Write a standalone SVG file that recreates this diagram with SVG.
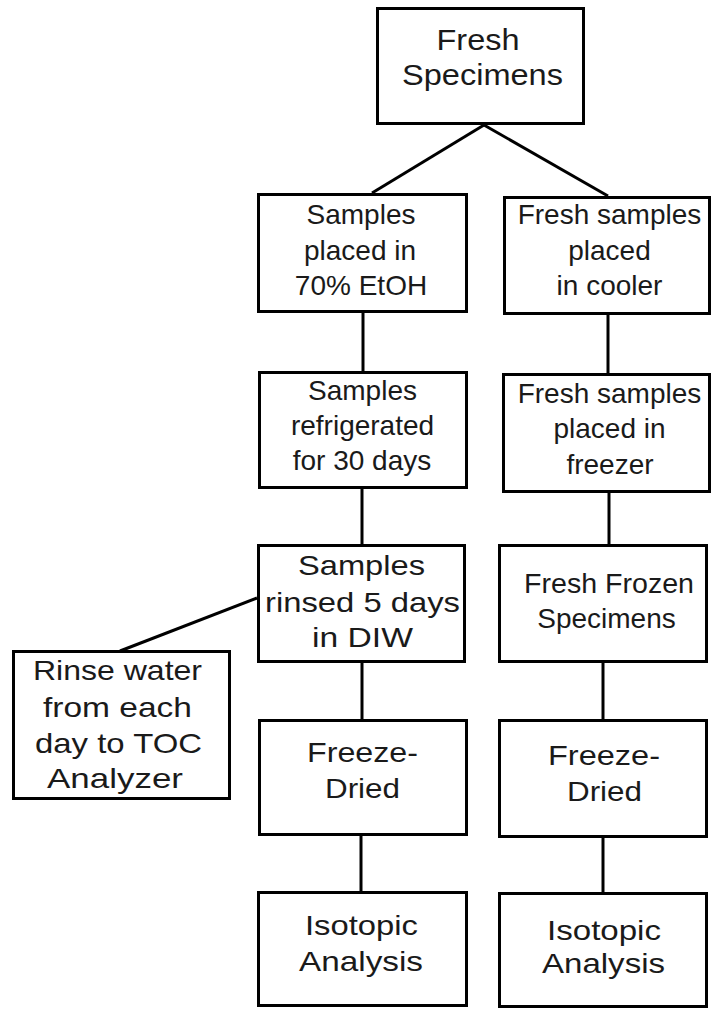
<svg xmlns="http://www.w3.org/2000/svg" width="713" height="1009" viewBox="0 0 713 1009">
<style>
.box{fill:#fff;stroke:#000;stroke-width:3}
.t{font-family:"Liberation Sans",Arial,sans-serif;font-size:28px;fill:#1a1a1a;text-anchor:middle}
.big{font-size:29px}
.c{stroke:#000;stroke-width:3;fill:none}
</style>
<rect width="713" height="1009" fill="#fff"/>
<g id="connectors">
<line class="c" x1="484" y1="125" x2="372" y2="193"/>
<line class="c" x1="484" y1="125" x2="608" y2="196"/>
<line class="c" x1="363" y1="313" x2="363" y2="371"/>
<line class="c" x1="362" y1="489" x2="362" y2="544"/>
<line class="c" x1="362" y1="663" x2="362" y2="719"/>
<line class="c" x1="361" y1="836" x2="361" y2="891"/>
<line class="c" x1="608" y1="315" x2="608" y2="373"/>
<line class="c" x1="609" y1="493" x2="609" y2="544"/>
<line class="c" x1="603" y1="663" x2="603" y2="719"/>
<line class="c" x1="603" y1="838" x2="603" y2="892"/>
<line class="c" x1="257" y1="598" x2="120" y2="651"/>
</g>
<g id="n1">
<rect class="box" x="377.5" y="8.5" width="206" height="115"/>
<text class="t big" x="478" y="50" textLength="83" lengthAdjust="spacingAndGlyphs">Fresh</text>
<text class="t big" x="482.5" y="85" textLength="161" lengthAdjust="spacingAndGlyphs">Specimens</text>
</g>
<g id="n2">
<rect class="box" x="258.5" y="194.5" width="208" height="117"/>
<text class="t" x="361" y="224">Samples</text>
<text class="t" x="360" y="260">placed in</text>
<text class="t" x="361" y="295">70% EtOH</text>
</g>
<g id="n3">
<rect class="box" x="504.5" y="197.5" width="205" height="116"/>
<text class="t" x="609.5" y="224">Fresh samples</text>
<text class="t" x="609.5" y="260">placed</text>
<text class="t" x="609.5" y="295">in cooler</text>
</g>
<g id="n4">
<rect class="box" x="259.5" y="372.5" width="207" height="115"/>
<text class="t" x="362.5" y="400">Samples</text>
<text class="t" x="362.5" y="435">refrigerated</text>
<text class="t" x="362" y="470">for 30 days</text>
</g>
<g id="n5">
<rect class="box" x="503.5" y="374.5" width="206" height="117"/>
<text class="t" x="609.5" y="403">Fresh samples</text>
<text class="t" x="609.5" y="438">placed in</text>
<text class="t" x="610" y="474">freezer</text>
</g>
<g id="n6">
<rect class="box" x="258.5" y="545.5" width="206" height="116"/>
<text class="t" x="361.5" y="575" textLength="127" lengthAdjust="spacingAndGlyphs">Samples</text>
<text class="t" x="362.5" y="612" textLength="195" lengthAdjust="spacingAndGlyphs">rinsed 5 days</text>
<text class="t" x="362.5" y="647" textLength="101" lengthAdjust="spacingAndGlyphs">in DIW</text>
</g>
<g id="n7">
<rect class="box" x="499.5" y="545.5" width="207" height="116"/>
<text class="t" x="609" y="593" textLength="170" lengthAdjust="spacingAndGlyphs">Fresh Frozen</text>
<text class="t" x="606.5" y="628">Specimens</text>
</g>
<g id="n8">
<rect class="box" x="13.5" y="651.5" width="216" height="147"/>
<text class="t" x="117.5" y="680" textLength="169" lengthAdjust="spacingAndGlyphs">Rinse water</text>
<text class="t" x="117.5" y="717" textLength="149" lengthAdjust="spacingAndGlyphs">from each</text>
<text class="t" x="118.5" y="753" textLength="167" lengthAdjust="spacingAndGlyphs">day to TOC</text>
<text class="t" x="115" y="788" textLength="136" lengthAdjust="spacingAndGlyphs">Analyzer</text>
</g>
<g id="n9">
<rect class="box" x="259.5" y="720.5" width="207" height="114"/>
<text class="t" x="362.5" y="762" textLength="111" lengthAdjust="spacingAndGlyphs">Freeze-</text>
<text class="t" x="362.5" y="798" textLength="75" lengthAdjust="spacingAndGlyphs">Dried</text>
</g>
<g id="n10">
<rect class="box" x="499.5" y="720.5" width="207" height="116"/>
<text class="t" x="604" y="765" textLength="112" lengthAdjust="spacingAndGlyphs">Freeze-</text>
<text class="t" x="604.5" y="801" textLength="75" lengthAdjust="spacingAndGlyphs">Dried</text>
</g>
<g id="n11">
<rect class="box" x="258.5" y="892.5" width="208" height="113"/>
<text class="t" x="361.5" y="935" textLength="113" lengthAdjust="spacingAndGlyphs">Isotopic</text>
<text class="t" x="361" y="971" textLength="124" lengthAdjust="spacingAndGlyphs">Analysis</text>
</g>
<g id="n12">
<rect class="box" x="499.5" y="893.5" width="207" height="113"/>
<text class="t" x="604" y="940" textLength="114" lengthAdjust="spacingAndGlyphs">Isotopic</text>
<text class="t" x="603.5" y="973" textLength="123" lengthAdjust="spacingAndGlyphs">Analysis</text>
</g>
</svg>
